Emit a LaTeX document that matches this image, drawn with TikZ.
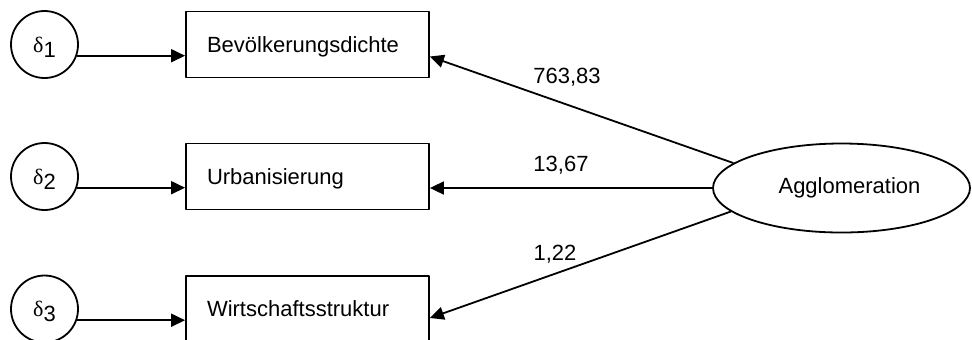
\documentclass[tikz,border=0pt]{standalone}
\usepackage{fontspec}
\setmainfont{Liberation Sans}
\newfontfamily\grk{Liberation Serif}
\usetikzlibrary{arrows.meta,shapes.geometric}
\newcommand{\dlt}[1]{{\grk δ}\raisebox{-2.5pt}[0pt][0pt]{#1}}
\begin{document}
\begin{tikzpicture}[x=0.5pt, y=-0.5pt, font=\fontsize{11}{13}\selectfont, line join=round,
  >={Triangle[length=7pt,width=6.5pt]}, line width=0.9pt,
  latent/.style={draw, circle, minimum size=33.5pt, inner sep=0pt},
  obs/.style={draw, rectangle, minimum width=121.5pt, minimum height=33pt, text width=100.5pt,
    align=left, inner xsep=10.5pt, inner ysep=0pt, text height=9.5pt, text depth=2pt},
  factor/.style={draw, ellipse, minimum width=128.5pt, minimum height=44.5pt, inner sep=0pt},
  coef/.style={inner sep=0pt}]
\useasboundingbox (0,0) rectangle (972,339);
\node[latent] (d1) at (44.5,44.5) {\dlt{1}};
\node[latent] (d2) at (44.5,176.5) {\dlt{2}};
\node[latent] (d3) at (44.5,309) {\dlt{3}};
\node[obs] (bev) at (307.5,44.5) {Bevölkerungsdichte};
\node[obs] (urb) at (307.5,176.5) {Urbanisierung};
\node[obs] (wir) at (307.5,309) {Wirtschaftsstruktur};
\node[factor] (agg) at (841.5,188) {\hspace{8pt}Agglomeration};
\draw[->] (d1.-19) -- (d1.-19 -| bev.west);
\draw[->] (d2.-19) -- (d2.-19 -| urb.west);
\draw[->] (d3.-19) -- (d3.-19 -| wir.west);
\draw[->] (agg.167) -- ([yshift=-6pt]bev.east);
\draw[->] (agg.west) -- (agg.west -| urb.east);
\draw[->] (agg.192) -- ([yshift=-4.5pt]wir.east);
\node[coef] (c1) at (567,77) {763,83};
\node[coef] (c2) at (561,165) {13,67};
\node[coef] (c3) at (555,254) {1,22};
\end{tikzpicture}
\end{document}
